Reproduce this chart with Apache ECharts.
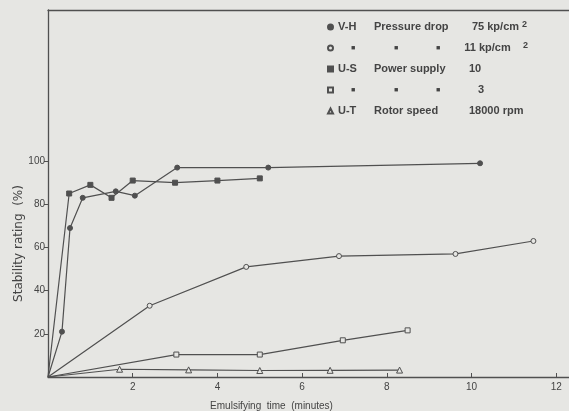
<!DOCTYPE html>
<html><head><meta charset="utf-8">
<script src="https://cdn.jsdelivr.net/npm/echarts@6/dist/echarts.min.js"></script>
<style>html,body{margin:0;padding:0;background:#e6e6e3;}#c{width:569px;height:411px;}</style>
</head><body><div id="c"></div>
<script>
// ---- data ----
const vh75X = [0, 0.33, 0.52, 0.82, 1.6, 2.05, 3.05, 5.2, 10.2];
const vh75Y = [0, 21, 69, 83, 86, 84, 97, 97, 99];
const vh11X = [0, 2.4, 4.68, 6.87, 9.62, 11.46];
const vh11Y = [0, 33, 51, 56, 57, 63];
const us10X = [0, 0.5, 1.0, 1.5, 2.0, 3.0, 4.0, 5.0];
const us10Y = [0, 85, 89, 83, 91, 90, 91, 92];
const us3X = [0, 3.03, 5.0, 6.96, 8.49];
const us3Y = [0, 10.4, 10.4, 17, 21.6];
const utX = [0, 1.69, 3.32, 5.0, 6.66, 8.3];
const utY = [0, 3.6, 3.3, 3.0, 3.1, 3.2];
const xTicks = [2, 4, 6, 8, 10, 12];
const yTicks = [20, 40, 60, 80, 100];
const seriesNames = ['V-H 75', 'V-H 11', 'U-S 10', 'U-S 3', 'U-T 18000'];

const BG = '#e6e6e3', INK = '#505050', TXT = '#444444';
const FONT = 'Liberation Sans';

function pts(xs, ys) {
  return xs.map((x, i) => i === 0 ? {value: [x, ys[i]], symbol: 'none'} : [x, ys[i]]);
}
function mk(name, xs, ys, symbol, filled, size) {
  return {
    name, type: 'line', data: pts(xs, ys), symbol, symbolSize: size,
    lineStyle: {color: INK, width: 1.2},
    itemStyle: {color: filled ? INK : BG, borderColor: INK, borderWidth: 1},
    emphasis: {disabled: true}, animation: false, z: 3
  };
}
const chart = echarts.init(document.getElementById('c'), null, {renderer: 'canvas'});
const base = {fontSize: 11, fontWeight: 'bold', color: TXT, fontFamily: FONT};
const rich = {
  a: Object.assign({width: 36}, base),
  b: Object.assign({width: 95}, base),
  c: Object.assign({width: 53, align: 'right'}, base),
  u: Object.assign({width: 71, align: 'right'}, base),
  v: Object.assign({}, base),
  w: Object.assign({width: 32, align: 'right'}, base),
  s: {fontSize: 9, fontWeight: 'bold', color: TXT, fontFamily: FONT, verticalAlign: 'top', padding: [0, 0, 8, 0]},
  q: {width: 30, align: 'center', fontSize: 7, color: TXT, fontFamily: FONT},
  r: {width: 56, align: 'center', fontSize: 7, color: TXT, fontFamily: FONT},
  t: {width: 28, align: 'center', fontSize: 7, color: TXT, fontFamily: FONT}
};
const legendText = {
  'V-H 75': '{a|V-H}{b|Pressure drop}{c|75 kp/cm}{s|2}',
  'V-H 11': '{q|■}{r|■}{t|■}{u|11 kp/cm}{s|2}',
  'U-S 10': '{a|U-S}{b|Power supply}{v|10}',
  'U-S 3': '{q|■}{r|■}{t|■}{w|3}',
  'U-T 18000': '{a|U-T}{b|Rotor speed}{v|18000 rpm}'
};
chart.setOption({
  backgroundColor: BG,
  animation: false,
  grid: {left: 48, right: 0, top: 10, bottom: 34, containLabel: false, outerBoundsMode: 'none'},
  legend: {
    orient: 'vertical', left: 322, top: 15, itemWidth: 5, itemHeight: 5, itemGap: 7,
    selectedMode: false,
    data: [
      {name: 'V-H 75', icon: 'circle'}, {name: 'V-H 11', icon: 'circle'},
      {name: 'U-S 10', icon: 'rect'}, {name: 'U-S 3', icon: 'rect'},
      {name: 'U-T 18000', icon: 'triangle'}
    ],
    formatter: n => legendText[n],
    textStyle: {rich, lineHeight: 14, fontFamily: FONT, fontSize: 11, color: TXT}
  },
  xAxis: [{
    type: 'value', min: 0, max: 12.3, position: 'bottom',
    name: 'Emulsifying  time  (minutes)', nameLocation: 'middle', nameGap: 24,
    nameTextStyle: {color: TXT, fontSize: 10, fontFamily: FONT, padding: [0, 74, 0, 0]},
    axisLine: {lineStyle: {color: INK, width: 1.3}},
    axisTick: {inside: true, length: 4, customValues: xTicks, lineStyle: {color: INK}},
    axisLabel: {customValues: xTicks, color: TXT, fontSize: 10, fontFamily: FONT, margin: 5},
    splitLine: {show: false}
  }, {
    type: 'value', min: 0, max: 12.3, position: 'top',
    axisLine: {show: true, lineStyle: {color: INK, width: 1.3}},
    axisTick: {show: false}, axisLabel: {show: false}, splitLine: {show: false}
  }],
  yAxis: {
    type: 'value', min: 0, max: 170,
    name: 'Stability rating  (%)', nameLocation: 'middle', nameGap: 23, nameMoveOverlap: false,
    nameTextStyle: {color: TXT, fontSize: 12, fontFamily: 'DejaVu Sans', padding: [0, 100, 0, 0]},
    axisLine: {show: true, lineStyle: {color: INK, width: 1.3}},
    axisTick: {show: true, length: 4, customValues: yTicks, lineStyle: {color: INK}},
    axisLabel: {customValues: yTicks, color: TXT, fontSize: 10, fontFamily: FONT, margin: 3},
    splitLine: {show: false}
  },
  series: [
    mk('V-H 75', vh75X, vh75Y, 'circle', true, 5),
    mk('V-H 11', vh11X, vh11Y, 'circle', false, 5),
    mk('U-S 10', us10X, us10Y, 'rect', true, 5),
    mk('U-S 3', us3X, us3Y, 'rect', false, 5),
    mk('U-T 18000', utX, utY, 'triangle', false, 6)
  ]
});
</script></body></html>
